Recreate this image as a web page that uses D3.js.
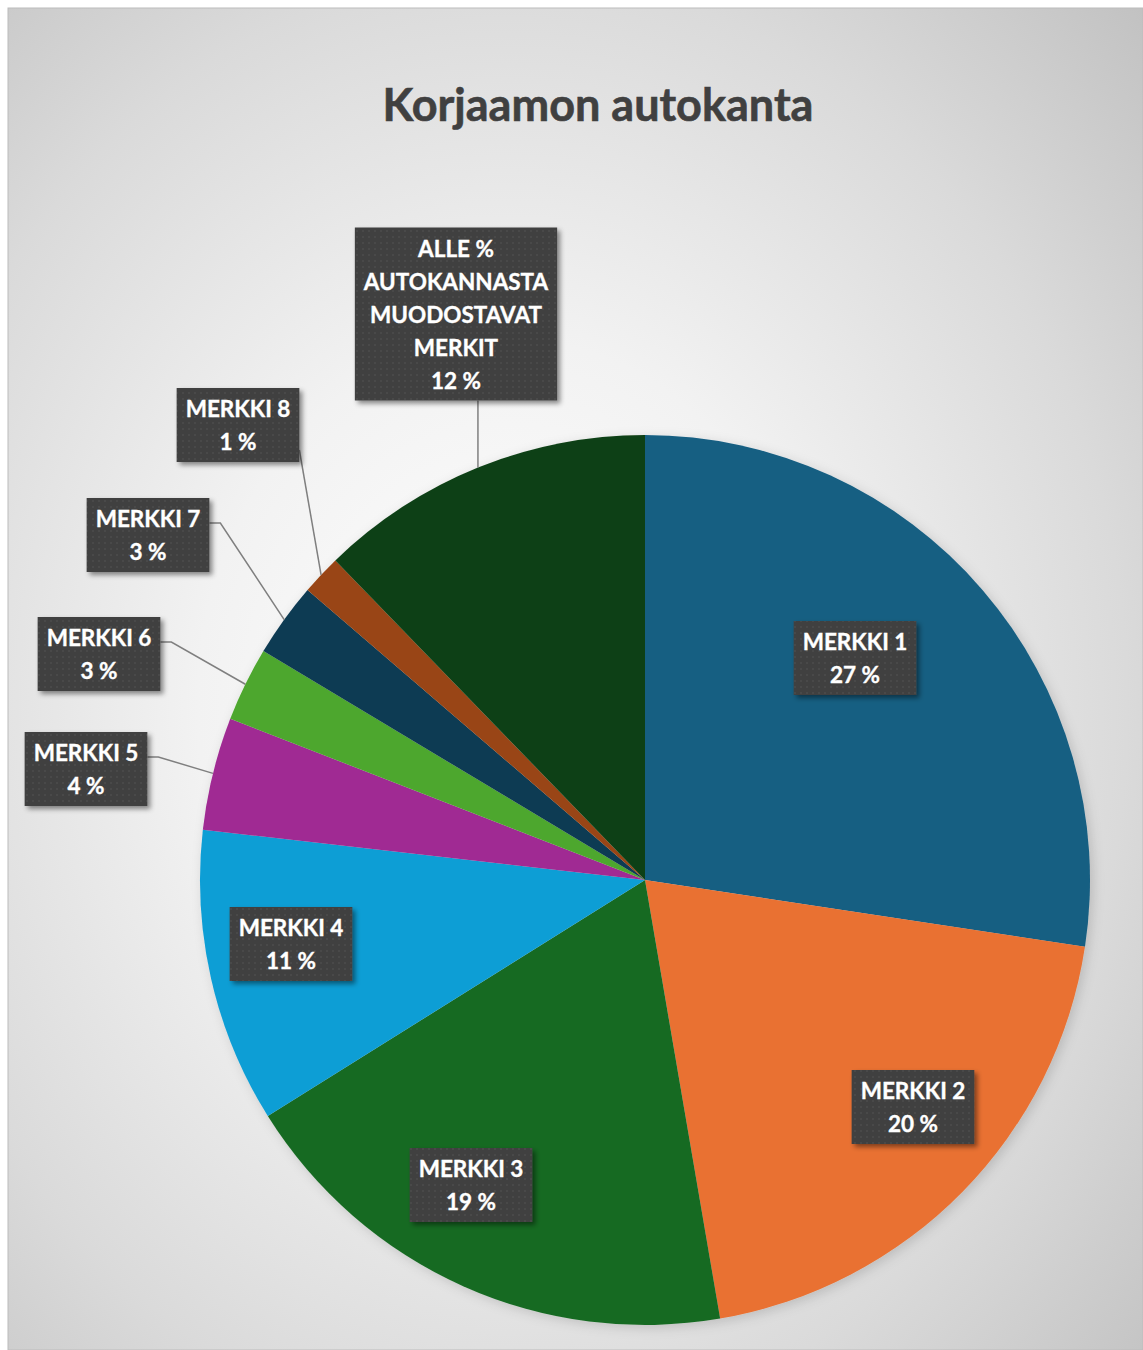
<!DOCTYPE html>
<html>
<head>
<meta charset="utf-8">
<script src="https://cdn.jsdelivr.net/npm/d3@7"></script>
<style>
  html, body { margin: 0; padding: 0; background: #ffffff; }
  svg { display: block; }
</style>
</head>
<body>
<script>
// ---- data ----
const categories = ["MERKKI 1", "MERKKI 2", "MERKKI 3", "MERKKI 4", "MERKKI 5",
  "MERKKI 6", "MERKKI 7", "MERKKI 8", "ALLE %\nAUTOKANNASTA\nMUODOSTAVAT\nMERKIT"];
const values = [27.4, 19.9, 18.8, 10.7, 4.1, 2.7, 2.7, 1.45, 12.25];
const colors = ["#165e82", "#e97132", "#196b24", "#0f9ed5", "#a02b93",
  "#4ea72e", "#0e3a52", "#994412", "#0f4016"];
const title = "Korjaamon autokanta";

// ---- layout (label placement) ----
const labelCenters = [[855, 658], [913, 1107], [471, 1185], [291, 944], [86, 769],
  [99, 654], [148, 535], [238, 425], [456, 314]];
const leaderTypes = [null, null, null, null, "elbow", "elbow", "elbow", "right", "bottom"];

const W = 1143, H = 1350;
const cx = 645, cy = 880, R = 445;

const svg = d3.select("body").append("svg").attr("width", W).attr("height", H);
const defs = svg.append("defs");

const bg = defs.append("radialGradient").attr("id", "bgGrad")
  .attr("cx", 0.44).attr("cy", 0.52).attr("r", 0.78);
bg.append("stop").attr("offset", 0).attr("stop-color", "#ffffff");
bg.append("stop").attr("offset", 0.35).attr("stop-color", "#f2f2f2");
bg.append("stop").attr("offset", 0.7).attr("stop-color", "#dadada");
bg.append("stop").attr("offset", 1).attr("stop-color", "#c0c0c0");

const pat = defs.append("pattern").attr("id", "dots").attr("patternUnits", "userSpaceOnUse")
  .attr("width", 6).attr("height", 6);
pat.append("rect").attr("width", 6).attr("height", 6).attr("fill", "#3f3f3f");
pat.append("circle").attr("cx", 3).attr("cy", 3).attr("r", 1).attr("fill", "#4d4d4d");

const sh = defs.append("filter").attr("id", "boxShadow")
  .attr("x", "-20%").attr("y", "-20%").attr("width", "150%").attr("height", "150%");
sh.append("feDropShadow").attr("dx", 3).attr("dy", 3).attr("stdDeviation", 2.5)
  .attr("flood-color", "#000").attr("flood-opacity", 0.45);

const pieSh = defs.append("filter").attr("id", "pieShadow")
  .attr("x", "-10%").attr("y", "-10%").attr("width", "120%").attr("height", "120%");
pieSh.append("feDropShadow").attr("dx", 3).attr("dy", 3).attr("stdDeviation", 6)
  .attr("flood-color", "#000").attr("flood-opacity", 0.15);

// background
svg.append("rect").attr("x", 8).attr("y", 8).attr("width", W - 8).attr("height", H - 8)
  .attr("fill", "url(#bgGrad)").attr("stroke", "#bcbcbc").attr("stroke-width", 1);

// title
svg.append("text").attr("x", 598).attr("y", 121).attr("text-anchor", "middle")
  .attr("font-family", "Lato, 'Open Sans', sans-serif").attr("font-weight", 700)
  .attr("font-size", 45).attr("fill", "#404040")
  .attr("stroke", "#404040").attr("stroke-width", 0.6).text(title);

// pie
const data = categories.map((c, i) => ({ name: c, value: values[i], color: colors[i], i }));
const total = d3.sum(values);
const pie = d3.pie().value(d => d.value).sort(null);
const arcs = pie(data);
const arc = d3.arc().innerRadius(0).outerRadius(R);
const edge = d3.arc().innerRadius(R).outerRadius(R);

const g = svg.append("g").attr("transform", `translate(${cx},${cy})`);
g.append("g").attr("filter", "url(#pieShadow)")
  .selectAll("path").data(arcs).join("path")
  .attr("d", arc).attr("fill", d => d.data.color);

// labels
const font = "Lato, 'Open Sans', sans-serif";
const labelsG = svg.append("g");
const boxes = [];
arcs.forEach((d, i) => {
  const lines = d.data.name.split("\n");
  lines.push(Math.round(d.data.value / total * 100) + " %");
  const [lx, ly] = labelCenters[i];
  const grp = labelsG.append("g");
  const rect = grp.append("rect");
  const texts = lines.map((t, k) => grp.append("text")
    .attr("x", lx).attr("text-anchor", "middle")
    .attr("font-family", font).attr("font-weight", 700).attr("font-size", 22.5)
    .attr("fill", "#ffffff").attr("stroke", "#ffffff").attr("stroke-width", 0.35).text(t));
  const maxW = d3.max(texts, t => t.node().getComputedTextLength());
  const bw = maxW + 18, bh = lines.length * 33 + 8;
  const bx = lx - bw / 2, by = ly - bh / 2;
  rect.attr("x", bx).attr("y", by).attr("width", bw).attr("height", bh)
    .attr("fill", "url(#dots)").attr("filter", "url(#boxShadow)");
  texts.forEach((t, k) => t.attr("y", by + 29 + k * 33));
  boxes.push({ bx, by, bw, bh, grp });
});

// leader lines
const leadG = svg.insert("g", () => labelsG.node());
arcs.forEach((d, i) => {
  const type = leaderTypes[i];
  if (!type) return;
  const [ex, ey] = edge.centroid(d);
  const px = cx + ex, py = cy + ey;
  const b = boxes[i];
  let pts;
  if (type === "elbow") {
    const sx = b.bx + b.bw, sy = b.by + 25;
    pts = [[sx, sy], [sx + 11, sy], [px, py]];
  } else if (type === "right") {
    pts = [[b.bx + b.bw, b.by + b.bh - 12], [px, py]];
  } else {
    pts = [[px, b.by + b.bh], [px, py]];
  }
  leadG.append("path").attr("d", d3.line()(pts))
    .attr("fill", "none").attr("stroke", "#7f7f7f").attr("stroke-width", 1.5);
});
</script>
</body>
</html>
